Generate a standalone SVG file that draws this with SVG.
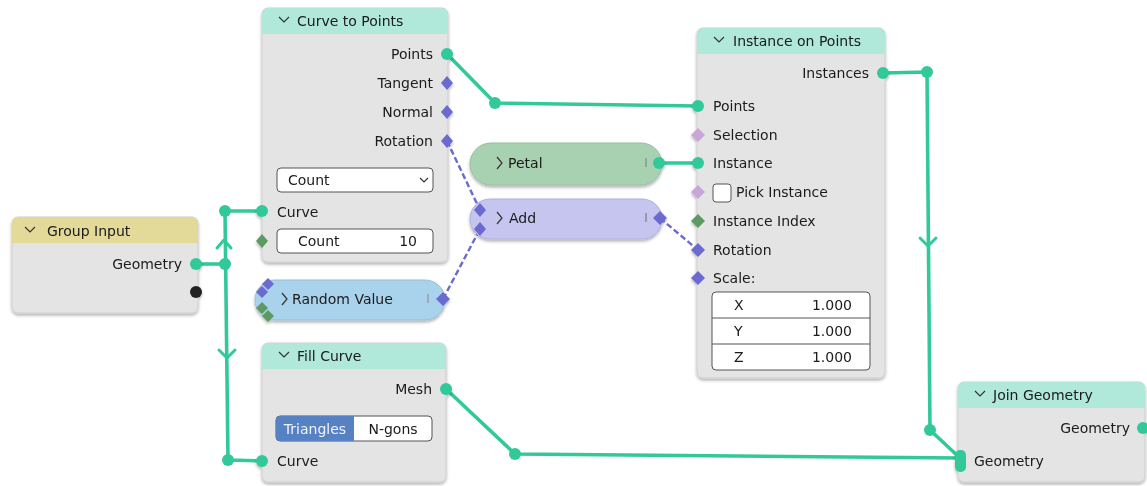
<svg xmlns="http://www.w3.org/2000/svg" width="1147" height="486" viewBox="0 0 1147 486">
<defs>
<filter id="sh" x="-10%" y="-10%" width="120%" height="125%">
<feDropShadow dx="0" dy="2" stdDeviation="1.5" flood-color="#000" flood-opacity="0.3"/>
</filter>
<clipPath id="c1"><rect x="12" y="217" width="186" height="96" rx="6"/></clipPath>
</defs>
<style>
text{font-family:"DejaVu Sans","Liberation Sans",sans-serif;font-size:14px;fill:#1a1a1a}
.r{text-anchor:end}
.body{fill:#e4e4e4;stroke:#cfcfcf;stroke-width:1}
.chev{fill:none;stroke:#333;stroke-width:1.2}
.teal{fill:#32c99a}
.link{fill:none;stroke:#32c99a;stroke-width:3.6;stroke-linejoin:round}
.dash{fill:none;stroke:#6a6ad0;stroke-width:2.4;stroke-dasharray:6 3}
.dpurple{fill:#6a6ad0}
.dlight{fill:#c8a6d8}
.dgreen{fill:#5c9a62}
.field{fill:#fff;stroke:#555;stroke-width:1}
.arrow{fill:none;stroke:#32c99a;stroke-width:3;stroke-linecap:round;stroke-linejoin:round}
</style>
<rect width="1147" height="486" fill="#ffffff"/>

<g id="connectors">
<polyline class="link" points="196,264 225,264"/>
<polyline class="link" points="262,211 225,211 228,460 262,461"/>
<polyline class="arrow" points="217,248 224,240 231,248"/>
<polyline class="arrow" points="219,350 227,358 235,350"/>
<polyline class="link" points="447,54 495,103 698,106"/>
<polyline class="link" points="659,163 698,163"/>
<polyline class="link" points="883,73 927,72 930,430 960,458"/>
<polyline class="arrow" points="920,238 928,246 936,238"/>
<polyline class="link" points="446,389 515,454 960,458"/>
<line class="dash" x1="447" y1="141" x2="480" y2="210"/>
<line class="dash" x1="443" y1="299" x2="480" y2="229"/>
<line class="dash" x1="660" y1="218" x2="698" y2="250"/>
<circle class="teal" cx="225" cy="211" r="6"/>
<circle class="teal" cx="225" cy="264" r="6"/>
<circle class="teal" cx="228" cy="460" r="6"/>
<circle class="teal" cx="495" cy="103" r="6"/>
<circle class="teal" cx="927" cy="72" r="6"/>
<circle class="teal" cx="930" cy="430" r="6"/>
<circle class="teal" cx="515" cy="454" r="6"/>
</g>

<g id="group-input" filter="url(#sh)">
<rect class="body" x="12" y="217" width="186" height="96" rx="6"/>
<rect x="12" y="217" width="186" height="26" fill="#e3d999" clip-path="url(#c1)"/>
<polyline class="chev" points="25,227 30,232 35,227"/>
<text x="47" y="236">Group Input</text>
<text class="r" x="182" y="269">Geometry</text>
<circle class="teal" cx="196" cy="264" r="6"/>
<circle cx="196" cy="292" r="6" fill="#222"/>
</g>

<g id="curve-to-points" filter="url(#sh)">
<rect class="body" x="262" y="8" width="186" height="254" rx="6"/>
<path d="M262,34 V14 a6,6 0 0 1 6,-6 H442 a6,6 0 0 1 6,6 V34 Z" fill="#b0e8d9"/>
<polyline class="chev" points="279,17 284,22 289,17"/>
<text x="297" y="26">Curve to Points</text>
<text class="r" x="433" y="59">Points</text>
<text class="r" x="433" y="88">Tangent</text>
<text class="r" x="433" y="117">Normal</text>
<text class="r" x="433" y="146">Rotation</text>
<circle class="teal" cx="447" cy="54" r="6"/>
<path class="dpurple" d="M447,76 l6,7 l-6,7 l-6,-7 Z"/>
<path class="dpurple" d="M447,105 l6,7 l-6,7 l-6,-7 Z"/>
<path class="dpurple" d="M447,134 l6,7 l-6,7 l-6,-7 Z"/>
<rect class="field" x="277" y="168" width="156" height="24" rx="4"/>
<text x="288" y="185">Count</text>
<polyline class="chev" points="420,178 424,182 428,178"/>
<text x="277" y="217">Curve</text>
<circle class="teal" cx="262" cy="211" r="6"/>
<rect class="field" x="277" y="229" width="156" height="24" rx="4"/>
<text x="298" y="246">Count</text>
<text class="r" x="417" y="246">10</text>
<path class="dgreen" d="M262,234 l6,7 l-6,7 l-6,-7 Z"/>
</g>

<g id="random-value" filter="url(#sh)">
<rect x="255" y="280" width="190" height="40" rx="20" fill="#a9d2ec" stroke="#98bfd8"/>
<polyline class="chev" points="282,293 287,299 282,305"/>
<text x="292" y="304">Random Value</text>
<rect x="427" y="294" width="2" height="9" fill="#9ab"/>
<path class="dpurple" d="M443,292 l7,7 l-7,7 l-7,-7 Z"/>
<path class="dpurple" d="M268,278 l6,6 l-6,6 l-6,-6 Z"/>
<path class="dpurple" d="M262,286 l6,6 l-6,6 l-6,-6 Z"/>
<path class="dgreen" d="M262,302 l6,6 l-6,6 l-6,-6 Z"/>
<path class="dgreen" d="M268,310 l6,6 l-6,6 l-6,-6 Z"/>
</g>

<g id="petal" filter="url(#sh)">
<rect x="470" y="143" width="192" height="42" rx="21" fill="#a8d1b2" stroke="#96c0a0"/>
<polyline class="chev" points="497,157 502,163 497,169"/>
<text x="508" y="168">Petal</text>
<rect x="645" y="158" width="2" height="9" fill="#8a9"/>
<circle class="teal" cx="659" cy="163" r="6"/>
</g>

<g id="add" filter="url(#sh)">
<rect x="470" y="199" width="192" height="40" rx="20" fill="#c5c5ef" stroke="#b0b0dc"/>
<polyline class="chev" points="497,212 502,218 497,224"/>
<text x="509" y="223">Add</text>
<rect x="645" y="213" width="2" height="9" fill="#99a"/>
<path class="dpurple" d="M660,211 l7,7 l-7,7 l-7,-7 Z"/>
<path class="dpurple" d="M480,203 l6,7 l-6,7 l-6,-7 Z"/>
<path class="dpurple" d="M480,222 l6,7 l-6,7 l-6,-7 Z"/>
</g>

<g id="instance-on-points" filter="url(#sh)">
<rect class="body" x="697" y="28" width="188" height="350" rx="6"/>
<path d="M697,54 V34 a6,6 0 0 1 6,-6 H879 a6,6 0 0 1 6,6 V54 Z" fill="#b0e8d9"/>
<polyline class="chev" points="714,37 719,42 724,37"/>
<text x="733" y="46">Instance on Points</text>
<text class="r" x="869" y="78">Instances</text>
<circle class="teal" cx="883" cy="73" r="6"/>
<text x="713" y="111">Points</text>
<circle class="teal" cx="698" cy="106" r="6"/>
<text x="713" y="140">Selection</text>
<path class="dlight" d="M698,128 l7,7 l-7,7 l-7,-7 Z"/>
<text x="713" y="168">Instance</text>
<circle class="teal" cx="698" cy="163" r="6"/>
<rect class="field" x="713" y="184" width="18" height="18" rx="3"/>
<text x="736" y="197">Pick Instance</text>
<path class="dlight" d="M698,185 l7,7 l-7,7 l-7,-7 Z"/>
<text x="713" y="226">Instance Index</text>
<path class="dgreen" d="M698,214 l7,7 l-7,7 l-7,-7 Z"/>
<text x="713" y="255">Rotation</text>
<path class="dpurple" d="M698,243 l7,7 l-7,7 l-7,-7 Z"/>
<text x="713" y="283">Scale:</text>
<path class="dpurple" d="M698,271 l7,7 l-7,7 l-7,-7 Z"/>
<rect class="field" x="712" y="292" width="158" height="78" rx="4"/>
<line x1="712" y1="318" x2="870" y2="318" stroke="#555"/>
<line x1="712" y1="344" x2="870" y2="344" stroke="#555"/>
<text x="734" y="310">X</text>
<text class="r" x="852" y="310">1.000</text>
<text x="734" y="336">Y</text>
<text class="r" x="852" y="336">1.000</text>
<text x="734" y="362">Z</text>
<text class="r" x="852" y="362">1.000</text>
</g>

<g id="fill-curve" filter="url(#sh)">
<rect class="body" x="262" y="343" width="184" height="139" rx="6"/>
<path d="M262,369 V349 a6,6 0 0 1 6,-6 H440 a6,6 0 0 1 6,6 V369 Z" fill="#b0e8d9"/>
<polyline class="chev" points="279,352 284,357 289,352"/>
<text x="297" y="361">Fill Curve</text>
<text class="r" x="432" y="394">Mesh</text>
<circle class="teal" cx="446" cy="389" r="6"/>
<rect x="276" y="416" width="156" height="25" rx="4" fill="#fff" stroke="#555"/>
<path d="M280,416 H354 V441 H280 a4,4 0 0 1 -4,-4 V420 a4,4 0 0 1 4,-4 Z" fill="#5782c4"/>
<text x="315" y="434" text-anchor="middle" style="fill:#eef3ff">Triangles</text>
<text x="393" y="434" text-anchor="middle">N-gons</text>
<text x="277" y="466">Curve</text>
<circle class="teal" cx="262" cy="461" r="6"/>
</g>

<g id="join-geometry" filter="url(#sh)">
<rect class="body" x="958" y="382" width="187" height="100" rx="6"/>
<path d="M958,408 V388 a6,6 0 0 1 6,-6 H1139 a6,6 0 0 1 6,6 V408 Z" fill="#b0e8d9"/>
<polyline class="chev" points="975,391 980,396 985,391"/>
<text x="993" y="400">Join Geometry</text>
<text class="r" x="1130" y="433">Geometry</text>
<circle class="teal" cx="1143" cy="428" r="6"/>
<text x="974" y="466">Geometry</text>
<rect class="teal" x="955" y="450" width="11" height="22" rx="5"/>
</g>
</svg>
